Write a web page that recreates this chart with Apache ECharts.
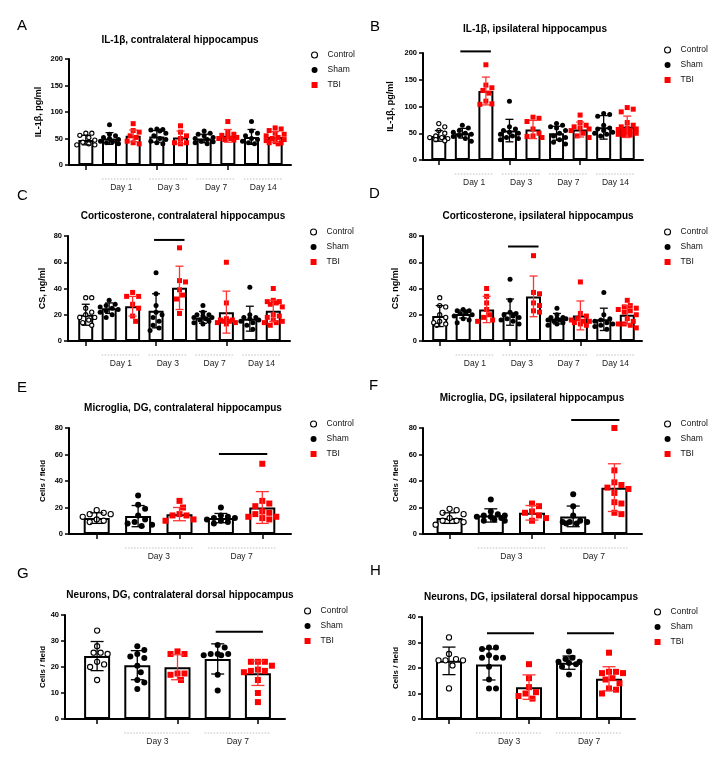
<!DOCTYPE html>
<html><head><meta charset="utf-8">
<script src="https://cdn.jsdelivr.net/npm/echarts/dist/echarts.min.js"></script>
<style>html,body{margin:0;padding:0;background:#fff}#c{width:728px;height:762px}</style>
</head><body><div id="c"></div><script>
// ---------- DATA ----------
const letters = ['A','B','C','D','E','F','G','H'];
const titles = ['IL-1β, contralateral hippocampus','IL-1β, ipsilateral hippocampus',
  'Corticosterone, contralateral hippocampus','Corticosterone, ipsilateral hippocampus',
  'Microglia, DG, contralateral hippocampus','Microglia, DG, ipsilateral hippocampus',
  'Neurons, DG, contralateral dorsal hippocampus','Neurons, DG, ipsilateral dorsal hippocampus'];
const yNames = ['IL-1β, pg/ml','IL-1β, pg/ml','CS, ng/ml','CS, ng/ml','Cells / field','Cells / field','Cells / field','Cells / field'];
const yMaxs = [200,200,80,80,80,80,40,40];
const yTicks = [50,50,20,20,20,20,10,10];
const legendNames = ['Control','Sham','TBI'];
const groups9 = ['Control','Sham','TBI','Sham','TBI','Sham','TBI','Sham','TBI'];
const groups5 = ['Control','Sham','TBI','Sham','TBI'];
const days9 = ['','','Day 1','','Day 3','','Day 7','','Day 14',''];
const days5 = ['','','Day 3','','Day 7',''];

const meanA = [47, 50, 55, 54, 52, 50, 55, 53, 53];
const sdA   = [9, 11, 11, 11, 12, 8, 12, 14, 10];
const ptsA = [
 [60,60,56,52,47,43,40,38,38],
 [76,58,55,52,50,48,45,44,42,40],
 [78,65,62,55,52,45,42,40],
 [68,67,66,64,60,55,50,48,45,42,40],
 [74,62,55,50,42,42,40],
 [64,60,58,55,52,50,48,45,44,42,40],
 [82,62,58,56,54,52,50,50,48,47],
 [82,64,60,55,50,48,45,42,40],
 [70,68,65,60,58,55,52,50,48,46,44,42,42,40]];
const sigA = [];

const meanB = [45, 50, 129, 55, 57, 50, 57, 61, 62];
const sdB   = [10, 9, 26, 21, 17, 13, 14, 22, 20];
const ptsB = [
 [68,62,55,50,45,42,42,40,38,36],
 [65,60,55,52,50,48,46,44,40,35],
 [178,140,135,130,125,110,105,104],
 [110,62,58,55,52,50,48,45,42,40,38],
 [80,78,72,58,50,45,44,42],
 [68,65,62,60,55,50,45,42,38,33,30],
 [84,70,65,62,60,58,55,50,45,42],
 [87,85,82,65,60,58,55,52,50,48,45],
 [98,95,90,70,65,62,60,58,57,55,55,52,50,48,47,46]];
const sigB = [[1,2,203]];

const meanC = [20, 25, 26.5, 23, 40.5, 18, 22, 17, 23];
const sdC   = [8, 4, 7.5, 13, 16.5, 4.5, 16, 9.5, 8];
const ptsC = [
 [33,33,25,22,20,18,18,16,14,12],
 [31,28,27,26,25,24,23,22,20,18],
 [37,34,34,28,25,19,15],
 [52,36,27,22,20,18,15,12,10,8],
 [71,46,45,39,35,32,21],
 [27,22,20,20,19,18,18,17,16,15,14,13],
 [60,29,17,16,16,15,15,14,14,13],
 [41,20,18,18,17,16,15,14,12,9],
 [40,31,30,30,29,28,26,20,19,18,16,15,14,14,12]];
const sigC = [[3,4,77]];

const meanD = [19, 20.5, 24, 22, 34, 17, 19.5, 16.5, 20];
const sdD   = [8, 3, 10, 10, 15.5, 4, 11, 8.5, 7];
const ptsD = [
 [33,27,26,20,18,15,14,13,12],
 [24,23,23,22,21,20,19,17,16,14],
 [40,34,29,24,20,18,16,15],
 [47,31,22,21,20,19,18,17,16,15,13],
 [65,37,36,29,27,23,22],
 [25,20,18,18,17,17,16,16,15,14,13,12],
 [45,21,19,17,16,15,15,14,13,12],
 [37,20,17,16,15,14,13,12,11,9],
 [31,27,26,25,24,23,22,20,17,15,13,13,12,10]];
const sigD = [[3,4,72]];

const meanE = [12, 13.5, 15, 12, 20];
const sdE   = [4, 8, 5, 3.5, 12];
const ptsE = [
 [18,16,15,15,13,11,10,9],
 [29,22,19,14,11,9,8,7,6],
 [25,20,15,14,14,11,10],
 [20,14,13,12,12,11,10,9,8],
 [53,25,23,21,17,16,15,13,13,12,11]];
const sigE = [[3,4,60.4]];

const meanF = [12, 14, 16, 13.3, 35];
const sdF   = [4, 5, 5.5, 7.8, 18];
const ptsF = [
 [19,18,16,15,12,10,10,9,7],
 [26,17,15,14,14,13,13,12,11,10,10],
 [23,21,17,16,14,12,10],
 [30,21,14,10,9,9,9,8,8],
 [80,48,39,37,35,34,31,24,23,16,15]];
const sigF = [[3,4,86]];

const meanG = [24.2, 20.7, 19.9, 23.1, 17.6];
const sdG   = [5.6, 5.6, 4.8, 5.8, 4.7];
const ptsG = [
 [34,28,25.5,25.5,25,22,21,20,15],
 [28,26.5,25,24,23.5,20.5,18,15,14,11.5],
 [26,25,25,17.5,17.5,17,15],
 [28.5,27.5,25,25,25,24.5,24.5,17,11],
 [22,22,22,20.5,19,18.5,18.5,18,15,10,6.5]];
const sigG = [[3,4,33.6]];

const meanH = [22.8, 21.4, 12.5, 22.1, 15.8];
const sdH   = [5.4, 6.1, 4.8, 2.6, 4.7];
const ptsH = [
 [32,25.5,23.5,23,23,23,21,12],
 [28,28,27.5,25,24,24,24,20.5,15.5,12,12],
 [21.5,16,12.5,10.5,10,9,8],
 [26.5,24,23.5,22.5,22.5,22,21.5,20.5,17.5],
 [26,18.5,18.5,18,18,16,15.5,14,12,11.5,10]];
const sigH = [[1,2,33.6],[3,4,33.6]];

const means = [meanA,meanB,meanC,meanD,meanE,meanF,meanG,meanH];
const sds = [sdA,sdB,sdC,sdD,sdE,sdF,sdG,sdH];
const pts = [ptsA,ptsB,ptsC,ptsD,ptsE,ptsF,ptsG,ptsH];
const sigs = [sigA,sigB,sigC,sigD,sigE,sigF,sigG,sigH];

// ---------- LAYOUT ----------
const frameBox = [[69,291,59,165],[423,643,53,160],[68,290,236,341],[423,642,236,341],
                  [69,291,428,534],[423,642,428,534],[65,285,615,719],[422,635,617,719]];
const barBox = [[74,213],[427,212],[74,211],[428,211],[76,207],[429,206],[77,201],[429,200]];
const titlePos = [[180,40],[535,29],[183,216],[538,216],[183,408],[532,398],[180,595],[531,597]];
const letterPos = [[17,26],[370,27],[17,196],[369,194],[17,388],[369,386],[17,574],[370,571]];
const legendPos = [[311,50],[664,45],[310,227],[664,227],[310,419],[664,419],[304,606],[654,607]];
const nameGaps = [26,28,21,23,22,23,18,22];
const yNameSize = [9,9,9,9,8,8,8,8];
const FONT = '"Liberation Sans", Arial, sans-serif';
const RED = '#ff0000';

function swarmOffsets(vals, ppu, d, maxOff) {
  const order = vals.map((v,i)=>i).sort((a,b)=>vals[b]-vals[a]);
  const placed = [], off = [];
  order.forEach(i => {
    const y = vals[i]*ppu;
    let best = null, bestAlt = 0, bestScore = -1;
    for (let k=0;k<80;k++){
      const cand = (k%2 ? 1 : -1) * Math.ceil(k/2) * d * 0.5;
      if (Math.abs(cand) > maxOff) continue;
      let minD = Infinity;
      placed.forEach(p => { minD = Math.min(minD, Math.hypot(p[0]-cand, p[1]-y)); });
      if (minD >= d) { best = cand; break; }
      if (minD > bestScore) { bestScore = minD; bestAlt = cand; }
    }
    if (best === null) best = bestAlt;
    off[i] = best; placed.push([best, y]);
  });
  return off;
}

const grid = [], xAxis = [], yAxis = [], series = [], legend = [], graphic = [];

for (let p=0;p<8;p++){
  const nine = means[p].length === 9;
  const groups = nine ? groups9 : groups5;
  const days = nine ? days9 : days5;
  const [ax, ex, ty, by] = frameBox[p];
  const [bl, bw] = barBox[p];
  const barW = nine ? 15 : 26;
  const capW = nine ? 4 : 6.5;
  const dMark = nine ? 5 : 6;
  const h = by - ty;
  const ppu = h / yMaxs[p];

  grid.push({left: ax, top: ty, width: ex-ax, height: h, containLabel:false, outerBoundsMode:'none'});
  grid.push({left: bl, top: ty, width: bw, height: h, containLabel:false, outerBoundsMode:'none'});
  const gF = 2*p, gB = 2*p+1;
  xAxis.push({type:'value', gridIndex:gF, min:0, max:1, axisLine:{show:true, lineStyle:{color:'#000', width:2}},
    axisTick:{show:false}, axisLabel:{show:false}, splitLine:{show:false}});
  const xB = xAxis.length;
  xAxis.push({type:'category', gridIndex:gB, data:groups.map((g,i)=>g+i), axisLine:{show:false},
    axisTick:{show:true, alignWithLabel:true, length:5, lineStyle:{color:'#000', width:1.5}},
    axisLabel:{show:false}, splitLine:{show:false}});
  xAxis.push({type:'category', gridIndex:gB, position:'bottom', offset:18, boundaryGap:false, data:days,
    axisLine:{show:false}, axisTick:{show:false}, splitLine:{show:false},
    axisLabel:{show:true, interval:0, margin:0, fontSize:8.5, color:'#222', fontFamily:FONT, hideOverlap:false}});
  yAxis.push({type:'value', gridIndex:gF, min:0, max:yMaxs[p], interval:yTicks[p],
    axisLine:{show:true, lineStyle:{color:'#000', width:2}},
    axisTick:{show:true, length:4, lineStyle:{color:'#000', width:1.5}},
    axisLabel:{show:true, margin:6, fontSize:7.5, fontWeight:'bold', color:'#000', fontFamily:FONT},
    splitLine:{show:false},
    name:yNames[p], nameLocation:'middle', nameGap:nameGaps[p], nameRotate:90,
    nameTextStyle:{fontSize:yNameSize[p], fontWeight:'bold', color:'#000', fontFamily:FONT}});
  const yB = yAxis.length;
  yAxis.push({type:'value', gridIndex:gB, min:0, max:yMaxs[p], show:false, splitLine:{show:false}});

  // bars
  series.push({type:'bar', xAxisIndex:xB, yAxisIndex:yB, data:means[p], barWidth:barW, silent:true, z:2,
    itemStyle:{color:'#fff', borderColor:'#000', borderWidth:2}, animation:false});

  // points
  legendNames.forEach(gname => {
    const data = [];
    groups.forEach((g,ci) => {
      if (g !== gname) return;
      const vals = pts[p][ci];
      const off = swarmOffsets(vals, ppu, dMark + 1, barW/2 + 2);
      vals.forEach((v,k) => data.push([ci, v, off[k]]));
    });
    series.push({type:'custom', name:gname, xAxisIndex:xB, yAxisIndex:yB, data:data, clip:false, z:4, silent:true,
      animation:false,
      renderItem:(params, api) => {
        const c = api.coord([api.value(0), api.value(1)]);
        const x = c[0] + api.value(2), y = c[1];
        const r = dMark/2;
        if (gname === 'Control') return {type:'circle', shape:{cx:x, cy:y, r:r-0.4}, style:{fill:'#fff', stroke:'#000', lineWidth:1.1}};
        if (gname === 'Sham') return {type:'circle', shape:{cx:x, cy:y, r:r}, style:{fill:'#000'}};
        return {type:'rect', shape:{x:x-r, y:y-r, width:dMark, height:dMark}, style:{fill:RED}};
      }});
  });

  // error bars
  series.push({type:'custom', xAxisIndex:xB, yAxisIndex:yB, clip:false, z:5, silent:true, animation:false,
    data: means[p].map((m,i)=>[i, m, sds[p][i]]),
    renderItem:(params, api) => {
      const ci = api.value(0), m = api.value(1), s = api.value(2);
      const t = api.coord([ci, m+s]), b = api.coord([ci, Math.max(m-s,0)]);
      const col = groups[ci] === 'TBI' ? '#ff3333' : '#000';
      const st = {stroke:col, lineWidth:1.3};
      return {type:'group', children:[
        {type:'line', shape:{x1:t[0], y1:t[1], x2:b[0], y2:b[1]}, style:st},
        {type:'line', shape:{x1:t[0]-capW, y1:t[1], x2:t[0]+capW, y2:t[1]}, style:st},
        {type:'line', shape:{x1:b[0]-capW, y1:b[1], x2:b[0]+capW, y2:b[1]}, style:st}]};
    }});

  // day separators (dotted) and significance lines
  const lineData = [];
  days.forEach((d,j) => { if (d) lineData.push([j-1, j, 0, 0]); });
  sigs[p].forEach(s => lineData.push([s[0], s[1], 1, s[2]]));
  series.push({type:'custom', xAxisIndex:xB, yAxisIndex:yB, clip:false, z:5, silent:true, animation:false,
    data: lineData,
    renderItem:(params, api) => {
      const a = api.coord([api.value(0), api.value(3)]), b = api.coord([api.value(1), api.value(3)]);
      if (api.value(2) === 0) {
        const base = api.coord([api.value(0), 0])[1] + 14;
        return {type:'line', shape:{x1:a[0]-barW/2, y1:base, x2:b[0]+barW/2, y2:base},
          style:{stroke:'#b0b0b0', lineWidth:0.8, lineDash:[1.5,1.5]}};
      }
      return {type:'line', shape:{x1:a[0]-2, y1:a[1], x2:b[0]+5, y2:a[1]}, style:{stroke:'#000', lineWidth:2}};
    }});

  legend.push({orient:'vertical', left:legendPos[p][0], top:legendPos[p][1], itemWidth:6, itemHeight:6, itemGap:5,
    padding:0, selectedMode:false, textStyle:{fontSize:8.5, color:'#111', fontFamily:FONT, lineHeight:10, padding:[0,0,0,5]},
    data:[{name:'Control', icon:'circle', itemStyle:{color:'#fff', borderColor:'#000', borderWidth:1.1}},
          {name:'Sham', icon:'circle', itemStyle:{color:'#000', borderWidth:0}},
          {name:'TBI', icon:'rect', itemStyle:{color:RED, borderWidth:0}}]});

  graphic.push({type:'text', left:letterPos[p][0], top:letterPos[p][1]-8, silent:true,
    style:{text:letters[p], fontSize:15, fill:'#000', fontFamily:FONT}});
  graphic.push({type:'text', x:titlePos[p][0], y:titlePos[p][1], silent:true,
    style:{text:titles[p], fontSize:10, fontWeight:'bold', fill:'#000', fontFamily:FONT, textAlign:'center', textVerticalAlign:'middle'}});
}

const chart = echarts.init(document.getElementById('c'), null, {renderer:'canvas'});
chart.setOption({backgroundColor:'#fff', animation:false, grid, xAxis, yAxis, series, legend, graphic});
</script></body></html>
